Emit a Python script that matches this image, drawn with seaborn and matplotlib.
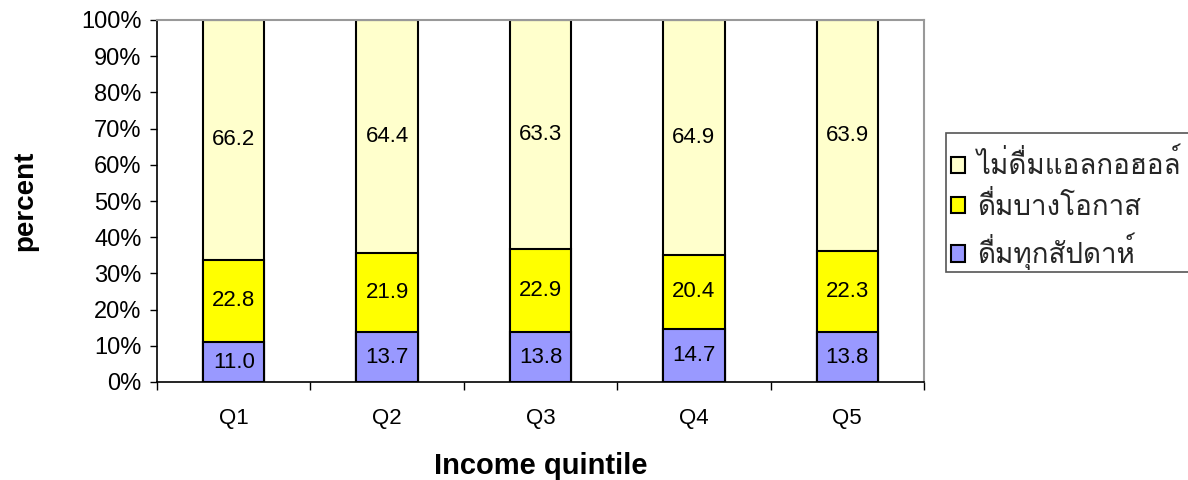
import matplotlib
matplotlib.use("Agg")
import matplotlib.pyplot as plt
from matplotlib import font_manager
from matplotlib.ft2font import FT2Font
from matplotlib.patches import Patch, Rectangle
from matplotlib.ticker import FixedLocator, FuncFormatter
import seaborn as sns
import pandas as pd

# Drinking frequency by income quintile (percent of respondents)
quintiles = ["Q1", "Q2", "Q3", "Q4", "Q5"]
weekly = [11.0, 13.7, 13.8, 14.7, 13.8]
occasional = [22.8, 21.9, 22.9, 20.4, 22.3]
never = [66.2, 64.4, 63.3, 64.9, 63.9]

series_names = ["ไม่ดื่มแอลกอฮอล์", "ดื่มบางโอกาส", "ดื่มทุกสัปดาห์"]
series_colors = ["#FFFFCC", "#FFFF00", "#9999FF"]


def thai_family():
    """Return the name of an installed font that covers Thai script."""
    best = None
    for f in font_manager.fontManager.ttflist:
        try:
            cmap = FT2Font(f.fname).get_charmap()
        except Exception:
            continue
        if 0x0E14 in cmap and 0x0E48 in cmap:
            if f.weight in ("normal", 400, "regular") and f.style == "normal":
                return f.name
            best = best or f.name
    return best or "DejaVu Sans"


sns.set_theme(style="white")
plt.rcParams["font.family"] = ["Liberation Sans", "DejaVu Sans"]
thai = thai_family()

df = pd.DataFrame({"quintile": quintiles, "weekly": weekly,
                   "occasional": occasional, "never": never})
df["lvl2"] = df["weekly"] + df["occasional"]
df["lvl3"] = df["lvl2"] + df["never"]

W, H = 1188, 480
fig = plt.figure(figsize=(W / 100, H / 100), dpi=100)
ax = fig.add_axes([157 / W, 1 - 382 / H, 767 / W, 362 / H])

# Stacked bars: draw cumulative totals from the top layer down
for col, color in zip(["lvl3", "lvl2", "weekly"], series_colors):
    sns.barplot(data=df, x="quintile", y=col, color=color, width=0.4,
                edgecolor="black", linewidth=1.5, saturation=1, ax=ax)

# Segment value labels
for i in range(len(quintiles)):
    bottoms = [0, weekly[i], weekly[i] + occasional[i]]
    for b, v in zip(bottoms, [weekly[i], occasional[i], never[i]]):
        ax.text(i, b + v / 2, f"{v:.1f}", ha="center", va="center",
                fontsize=16, color="black")

ax.set_xlim(-0.5, len(quintiles) - 0.5)
ax.set_ylim(0, 100)
ax.yaxis.set_major_locator(FixedLocator(range(0, 101, 10)))
ax.yaxis.set_major_formatter(FuncFormatter(lambda v, p: f"{v:.0f}%"))
ax.tick_params(axis="y", which="major", left=True, length=5, width=1,
               pad=6, labelsize=17, color="black", labelcolor="black")

# Category labels centred, tick marks between categories
ax.tick_params(axis="x", which="major", length=0, pad=19, labelsize=16,
               labelcolor="black")
ax.xaxis.set_minor_locator(FixedLocator([k - 0.5 for k in range(len(quintiles) + 1)]))
ax.tick_params(axis="x", which="minor", bottom=True, length=6, width=1,
               color="black")

for side in ["left", "bottom"]:
    ax.spines[side].set_color("black")
    ax.spines[side].set_linewidth(1.2)
for side in ["top", "right"]:
    ax.spines[side].set_color("#999999")
    ax.spines[side].set_linewidth(1.5)

ax.set_xlabel("Income quintile", fontsize=21, fontweight="bold", color="black")
ax.xaxis.set_label_coords(0.5, -0.192)
ax.set_ylabel("percent", fontsize=20, fontweight="bold", color="black")
ax.yaxis.set_label_coords(-0.155, 0.5)

# Legend box, running off the right edge of the figure
fig.patches.append(Rectangle((946 / W, 1 - 272 / H), 300 / W, 139 / H,
                             transform=fig.transFigure, facecolor="white",
                             edgecolor="#555555", linewidth=1.2, zorder=0))

handles = [Patch(facecolor=c, edgecolor="black", linewidth=1.5) for c in series_colors]
leg = fig.legend(handles, series_names, loc="upper left",
                 bbox_to_anchor=(946 / W, 1 - 145 / H),
                 frameon=False,
                 prop={"family": [thai, "DejaVu Sans"], "size": 20},
                 handlelength=0.52, handleheight=0.52, handletextpad=0.43,
                 labelspacing=0.42, borderpad=0.18, borderaxespad=0)

fig.savefig("out.png", dpi=100)
